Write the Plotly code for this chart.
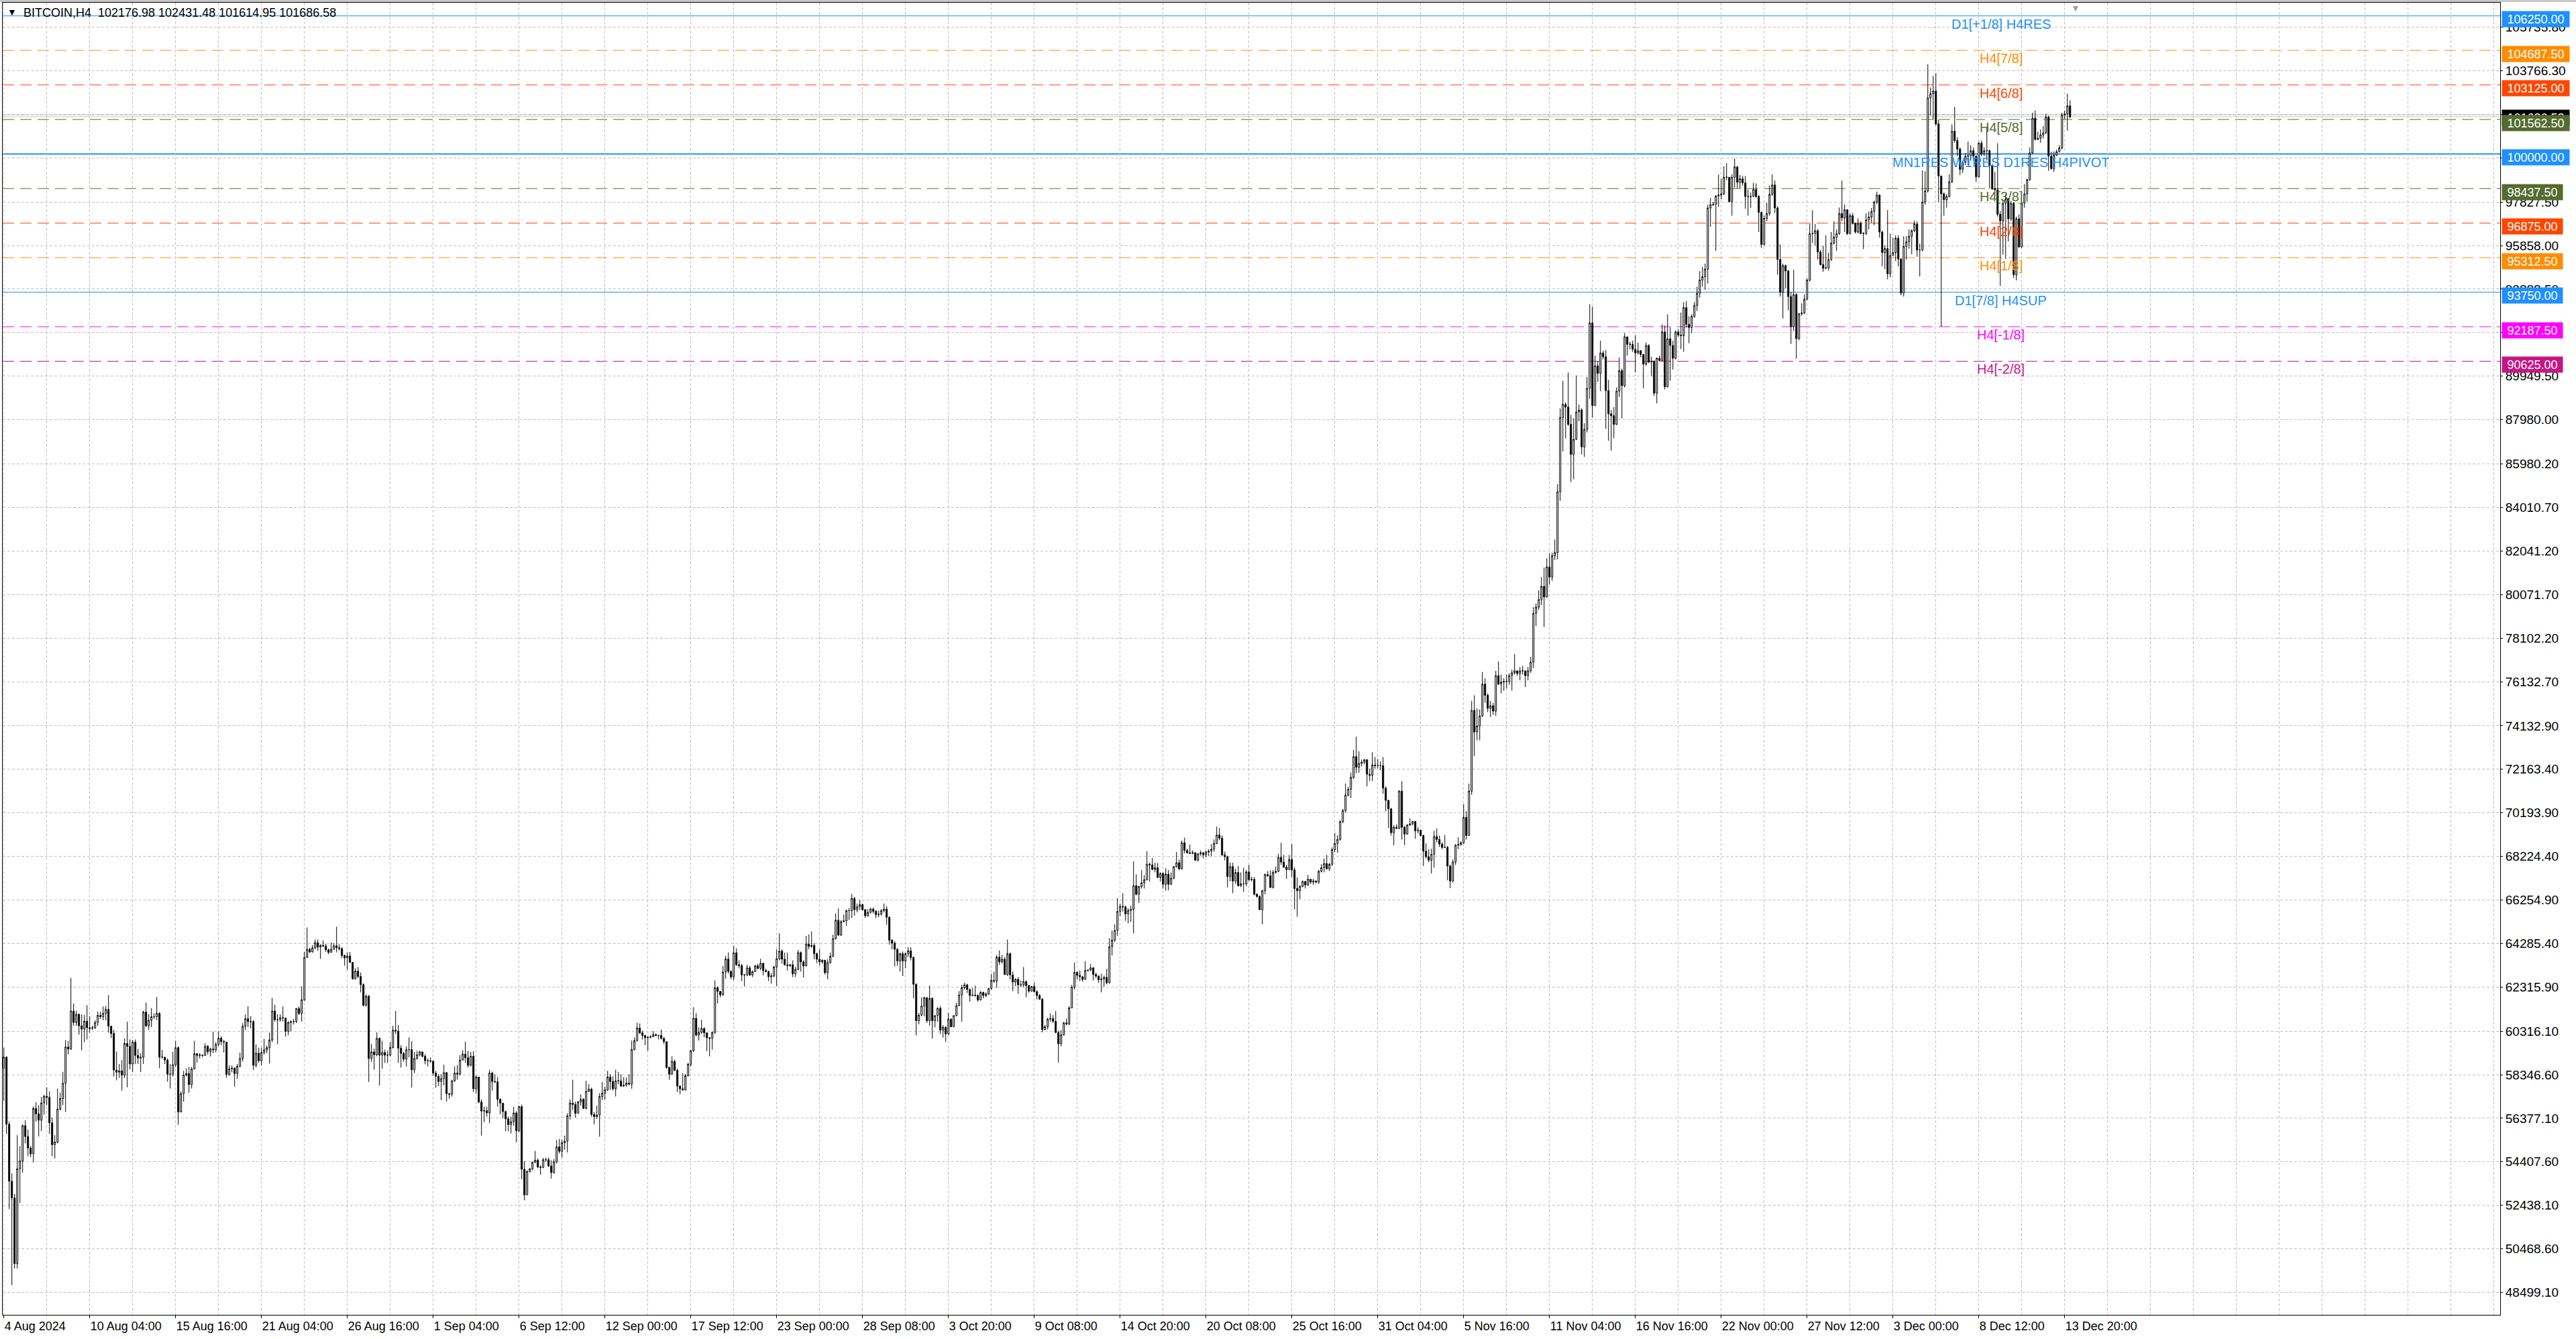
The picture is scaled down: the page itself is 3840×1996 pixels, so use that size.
import plotly.graph_objects as go

# ---------------------------------------------------------------- data
symbol = "BITCOIN"
timeframe = "H4"

first_open = 58640

closes = [
    59140, 56110, 53530, 52770, 49800, 54090, 54440, 56040, 55550, 55030,
    54770, 56820, 56580, 56290, 57070, 57370, 57320, 56170, 55180, 55300,
    56790, 57270, 57960, 59600, 59510, 61230, 60710, 61080, 60560, 60410,
    60770, 60470, 60440, 60470, 60710, 61030, 60970, 61120, 61300, 60540,
    60210, 58560, 58460, 58520, 58330, 59760, 59630, 58830, 59820, 59220,
    59100, 59140, 61180, 60560, 60810, 60970, 60970, 61120, 59140, 59140,
    59010, 58370, 58370, 58800, 59570, 56660, 57490, 58330, 58400, 57900,
    58610, 59300, 59220, 59240, 59220, 59630, 59390, 59510, 59470, 59720,
    60000, 59840, 59820, 58360, 58610, 58640, 58400, 58730, 59080, 60540,
    60880, 60750, 60750, 58770, 59320, 58980, 59350, 59470, 59570, 59920,
    61230, 60830, 60830, 60930, 60910, 60310, 60710, 60750, 60750, 61340,
    61120, 61740, 63650, 64020, 63900, 64090, 64320, 64120, 64200, 64170,
    64000, 63880, 64020, 64180, 64090, 64050, 63740, 63630, 63720, 63430,
    62690, 63030, 62790, 62420, 61490, 61900, 59080, 59380, 59250, 59990,
    59230, 59350, 59230, 59230, 59580, 60360, 60320, 59550, 59310, 59050,
    59480, 59480, 58570, 59080, 59250, 59380, 59180, 58980, 58980, 58960,
    58420, 58270, 58040, 58170, 58440, 57490, 57460, 58070, 58420, 58370,
    59010, 59280, 59110, 58770, 59180, 57710, 58240, 57110, 56700, 56720,
    56620, 58420, 58040, 58020, 57230, 57060, 56680, 56350, 56090, 56220,
    56620, 55810, 56900, 54070, 52910, 53970, 54090, 54380, 54480, 54170,
    54150, 54500, 54500, 54220, 53920, 54400, 55080, 54880, 55270, 55340,
    56480, 57060, 57000, 56600, 57110, 57230, 56820, 57590, 57690, 56550,
    56450, 56520, 57360, 57510, 57660, 58240, 58040, 57710, 58070, 58070,
    57830, 57870, 57970, 57920, 59480, 59890, 60460, 60240, 60120, 60020,
    60040, 60060, 60160, 60120, 60120, 59990, 59840, 58670, 58370, 58950,
    58540, 57830, 57710, 57660, 58300, 58820, 59430, 60900, 60140, 60260,
    60440, 60240, 60020, 59990, 60260, 62280, 62110, 61960, 62990, 63580,
    63020, 62770, 63860, 63320, 63280, 62860, 62860, 63180, 62860, 63010,
    63270, 63160, 63390, 63060, 63010, 62780, 62810, 63220, 63590, 63940,
    63570, 63320, 63280, 63320, 62910, 63110, 63870, 63450, 63270, 64260,
    64150, 64190, 63820, 63570, 63450, 63520, 62960, 63420, 63700, 64500,
    65340, 64660, 65270, 65310, 65770, 65770, 66320, 65810, 65940, 66040,
    65810, 65540, 65690, 65840, 65740, 65590, 65610, 65770, 65840, 65470,
    64430, 64300, 64020, 63490, 63820, 63490, 63820, 63950, 63650, 62440,
    60790, 61040, 61450, 61830, 60790, 61800, 60790, 61020, 61350, 60360,
    60490, 60190, 60860, 60520, 61020, 61470, 61950, 62280, 62410, 62200,
    61930, 61950, 61930, 61730, 62070, 61930, 62000, 62240, 62610, 62580,
    63670, 63450, 63570, 62880, 63820, 62860, 62540, 62660, 62410, 62410,
    62560, 62380, 62130, 62340, 62100, 61930, 61770, 60390, 60520, 60860,
    60890, 60760, 60260, 59750, 60150, 60690, 60640, 61370, 62310, 62980,
    62840, 62780, 62660, 63060, 63080, 63180, 62880, 62810, 62640, 62680,
    62750, 62510, 64140, 64440, 64870, 65730, 65960, 65940, 65620, 65780,
    65830, 66900, 66510, 66860, 67030, 67170, 67870, 67840, 67630, 67710,
    67270, 67450, 66960, 67420, 66960, 67240, 67760, 67940, 67660, 68840,
    68490, 68390, 68360, 68390, 68050, 68340, 68390, 68290, 68420, 68460,
    68550, 68810, 69190, 69050, 68290, 68210, 67310, 67760, 67110, 67500,
    66900, 66980, 66980, 67520, 67170, 67190, 66510, 66410, 65810, 66670,
    67400, 67350, 66820, 67500, 67550, 68180, 67970, 67730, 67630, 68080,
    67610, 66770, 66670, 66860, 67090, 66930, 67190, 67060, 67110, 67060,
    67550, 67710, 67900, 67660, 67870, 68530, 68810, 68990, 69800, 70300,
    71000, 71260, 71800, 72740, 72250, 72430, 72490, 72600, 71940, 71890,
    72360, 72330, 72330, 72330, 71310, 70760, 70370, 69300, 69540, 69490,
    71180, 69540, 69230, 69640, 69690, 69800, 69380, 69400, 69170, 68460,
    68210, 68050, 68320, 69120, 68990, 68780, 68630, 68630, 67790, 67110,
    67970, 68730, 68760, 68840, 69990, 69170, 71180, 74830, 73850, 74120,
    74580, 76020, 75510, 74920, 75040, 74800, 76400, 76020, 76110, 76140,
    76140, 76400, 76530, 76620, 76500, 76620, 76620, 76400, 76620, 77010,
    79220, 79500, 79840, 80440, 79960, 81320, 80860, 81830, 81970, 84720,
    88080, 88670, 88550, 87770, 86410, 87090, 88330, 88420, 86750, 87540,
    89400, 92360, 88620, 90420, 90080, 91000, 90830, 89300, 88250, 88160,
    87770, 89270, 90200, 89520, 91730, 91390, 91390, 91170, 91000, 91100,
    90930, 90490, 91340, 90590, 90630, 89180, 90760, 90660, 91950, 89470,
    91640, 91340, 90760, 91950, 91810, 91780, 93050, 92290, 92150, 92660,
    93150, 93700, 94300, 94450, 94790, 97560, 97710, 97730, 98100, 98140,
    98200, 98950, 98950, 97850, 98950, 99420, 98720, 98880, 98700, 98080,
    98080, 98080, 98390, 98080, 97360, 95910, 97090, 97310, 98180, 98600,
    97560, 95230, 93740, 94950, 94710, 93550, 92190, 93640, 91650, 92770,
    92810, 93430, 94300, 96400, 96400, 96530, 95570, 95000, 94830, 94850,
    95230, 95970, 96240, 96400, 97310, 97110, 97480, 96400, 97210, 96860,
    96470, 96860, 96400, 96400, 97020, 97150, 97400, 97830, 98140, 96470,
    95540, 95720, 94580, 95410, 95540, 96190, 95250, 93710, 95820, 96030,
    96280, 96530, 96840, 95660, 95660, 97830, 98330, 102540, 102730, 102850,
    101360, 99010, 98200, 97930, 98080, 98740, 101030, 100610, 100220, 99310,
    99620, 99900, 99920, 100150, 99900, 98970, 100490, 100000, 100150, 100150,
    99490, 98430, 98380, 97270, 96970, 97770, 97980, 97070, 97770, 94540,
    97070, 95800, 97780, 98190, 98840, 100050, 101620, 100660, 100710, 100860,
    100960, 101670, 99900, 99340, 99950, 100100, 100280, 101770, 101820, 102176.98,
    101686.58,
]

highs = [
    59570, 59180, 56230, 53880, 52950, 55610, 55120, 56100, 56290, 55860,
    55120, 56910, 57100, 56970, 57340, 57440, 57780, 57590, 56420, 55610,
    57720, 57530, 58480, 59920, 59880, 62720, 61570, 61240, 61120, 61080,
    61050, 61490, 60990, 60560, 60810, 61200, 61200, 61430, 61450, 61950,
    60560, 60370, 59390, 58830, 59010, 60000, 60750, 59940, 59920, 59940,
    59510, 59320, 61240, 61610, 61080, 61360, 61120, 61860, 61180, 59470,
    59140, 59080, 58830, 59390, 59880, 59630, 57590, 58520, 58640, 58700,
    58700, 59880, 59320, 59320, 59260, 59760, 59690, 59570, 60290, 59820,
    60310, 60090, 59920, 59840, 58770, 58770, 58680, 58830, 59350, 60680,
    61080, 61450, 60990, 60810, 59720, 59570, 59570, 59970, 59670, 60250,
    61820, 61510, 61080, 61080, 61430, 60930, 60770, 60800, 60870, 61360,
    61430, 62350, 63900, 65010, 64090, 64210, 64460, 64460, 64250, 64420,
    64270, 64050, 64330, 64300, 65040, 64250, 64120, 63780, 63880, 63900,
    63430, 63160, 63220, 62970, 62480, 61980, 61950, 59730, 59530, 60260,
    60040, 59890, 59480, 59430, 59820, 60560, 61230, 60590, 59680, 59380,
    59630, 60040, 59860, 59380, 59430, 59430, 59380, 59280, 59080, 59130,
    58950, 58520, 58370, 58370, 58800, 58470, 57510, 58120, 58720, 58770,
    59230, 59450, 59840, 59430, 59380, 59410, 58320, 58240, 57230, 56900,
    56900, 58570, 58490, 58370, 58240, 57290, 57060, 56720, 56450, 56450,
    56900, 56700, 56950, 57000, 54430, 54020, 54120, 54430, 54900, 54560,
    54250, 54580, 54600, 54600, 54480, 54530, 55390, 55440, 55410, 55590,
    56600, 57230, 58120, 57130, 57160, 57460, 57290, 58070, 57920, 57760,
    56650, 56950, 57510, 58020, 57810, 58520, 58370, 58270, 58570, 58470,
    58370, 58240, 58220, 58370, 59890, 60040, 60700, 60670, 60340, 60150,
    60090, 60140, 60320, 60220, 60160, 60390, 60040, 59750, 58720, 59180,
    59030, 58620, 57860, 58420, 58370, 58880, 59480, 61400, 61130, 60490,
    60830, 60490, 60260, 60040, 60290, 62620, 62340, 62140, 63270, 63730,
    63880, 63070, 64180, 64060, 63520, 63360, 62910, 63320, 63270, 63060,
    63320, 63360, 63590, 63280, 63140, 63060, 62940, 63270, 64020, 64750,
    64020, 63870, 63870, 63360, 63520, 63220, 63990, 63920, 63520, 64630,
    64700, 64830, 64300, 63870, 64020, 63570, 63550, 63570, 63870, 64680,
    65640, 65870, 65340, 65590, 65810, 65890, 66520, 66400, 66090, 66250,
    66090, 65850, 65840, 65910, 65910, 65790, 65770, 65840, 66090, 65970,
    65510, 64480, 64380, 64070, 63870, 63920, 63870, 64120, 64120, 63690,
    62480, 61140, 61850, 61870, 61850, 62380, 61850, 61040, 61400, 61450,
    60590, 60540, 61140, 60900, 61040, 61600, 62130, 62410, 62510, 62460,
    62250, 62270, 62380, 62000, 62130, 62100, 62070, 62280, 62910, 63010,
    63770, 63970, 63770, 63670, 64460, 63870, 63010, 62710, 62760, 62610,
    63220, 62610, 62410, 62360, 62510, 62170, 62000, 61800, 60590, 60920,
    61120, 61040, 61230, 60340, 60360, 60740, 60890, 61450, 62410, 63420,
    63010, 63060, 62800, 63490, 63110, 63360, 63210, 62960, 62840, 62910,
    62830, 63140, 64530, 64870, 65150, 66330, 66090, 66560, 65990, 65880,
    65990, 68000, 67420, 66900, 67610, 67380, 68460, 67940, 68150, 67940,
    67920, 67500, 67500, 67690, 67610, 67500, 67790, 68420, 68080, 68940,
    69070, 68570, 68760, 68490, 68400, 68360, 68490, 68400, 68490, 68550,
    68780, 68990, 69570, 69510, 69170, 68440, 68250, 67940, 67940, 67660,
    67790, 67500, 67710, 67610, 67840, 67310, 67290, 66560, 66460, 66720,
    67450, 67560, 67590, 67610, 67760, 68340, 68840, 68290, 67840, 68290,
    68780, 67730, 67270, 66930, 67140, 67110, 67380, 67210, 67210, 67140,
    67610, 67870, 68130, 68290, 67920, 68630, 69280, 69170, 69850, 70370,
    71520, 71370, 72010, 73040, 73640, 72980, 72600, 72620, 72620, 72200,
    72930, 72720, 72620, 72520, 72720, 71390, 70790, 70420, 69640, 69670,
    71210, 71630, 69610, 69690, 69950, 69820, 69830, 69540, 69430, 69200,
    68810, 68550, 68570, 69380, 69490, 69170, 68860, 69190, 68700, 67840,
    68080, 68780, 69090, 68910, 70580, 70270, 71520, 75260, 75510, 74920,
    74870, 76570, 76280, 75600, 75260, 75170, 76620, 77040, 76450, 76280,
    76450, 76500, 76670, 77380, 76620, 76790, 76840, 76620, 76790, 77250,
    79500, 79670, 80270, 80860, 81290, 81710, 81930, 81970, 82560, 85060,
    88500, 89740, 88760, 90120, 88200, 88040, 89980, 88670, 88500, 87820,
    89910, 93200, 93100, 90880, 90630, 91560, 91100, 91130, 89780, 88420,
    88550, 89440, 90800, 90290, 91900, 91730, 91510, 91560, 91810, 91470,
    91130, 90950, 91470, 91390, 90830, 90660, 90800, 90880, 92290, 92240,
    92750, 92150, 91560, 92020, 92070, 92830, 93300, 93350, 92660, 92750,
    93300, 94000, 94700, 94900, 95040, 97710, 98020, 97830, 98140, 99070,
    98880, 99440, 99590, 98950, 99090, 99790, 99450, 99050, 99010, 99010,
    98390, 98260, 98700, 98670, 98140, 97400, 97210, 97800, 98570, 99070,
    98800, 97640, 95910, 95040, 95000, 94760, 93760, 94760, 93710, 92810,
    93240, 93640, 94380, 96840, 97460, 96840, 96610, 95660, 95850, 96320,
    95540, 96470, 96960, 96590, 97580, 98800, 97710, 97460, 97330, 97330,
    96900, 97090, 96960, 96470, 97310, 97400, 97560, 97890, 98300, 98180,
    96530, 95870, 97460, 96400, 96220, 96320, 96320, 95290, 96280, 96280,
    96590, 96590, 96990, 96960, 95950, 99260, 99220, 104060, 103010, 103530,
    103660, 101550, 98950, 98260, 98180, 99090, 101340, 102130, 100760, 100300,
    99700, 100050, 100560, 100400, 100300, 99950, 100560, 100610, 100300, 101210,
    100200, 99550, 99190, 100490, 97420, 97880, 98180, 98000, 97880, 97830,
    97170, 97270, 97830, 98640, 98890, 100300, 101870, 101970, 101010, 101110,
    101260, 101820, 101740, 100100, 100120, 100200, 100400, 101870, 101970, 102730,
    102431.48,
]

lows = [
    57160, 55670, 52270, 48830, 49580, 49580, 52540, 53920, 55240, 54660,
    54620, 54380, 56230, 55550, 55800, 56540, 56970, 55670, 54660, 54560,
    55240, 56730, 56970, 56660, 59260, 59470, 60560, 60560, 60160, 59450,
    59820, 59940, 60250, 60370, 60410, 60560, 60870, 60810, 60810, 60250,
    60000, 58270, 58090, 58210, 57630, 58190, 57780, 58580, 58460, 58830,
    58830, 58460, 58830, 60500, 60370, 60500, 60870, 60810, 58640, 59080,
    58830, 58030, 57720, 58270, 58700, 56080, 56730, 57120, 58270, 57530,
    57720, 58580, 58890, 59080, 59140, 59200, 59260, 59170, 59320, 59360,
    59630, 59690, 59350, 58210, 58310, 58460, 57810, 58150, 58680, 58950,
    60370, 60500, 60440, 58560, 58680, 58890, 58770, 59260, 59320, 58850,
    59820, 60750, 59730, 60750, 60750, 60070, 60130, 60310, 60620, 60680,
    61050, 60750, 61670, 63630, 63850, 63870, 64020, 63950, 63590, 64120,
    63900, 63800, 63880, 64000, 63880, 63960, 63630, 63280, 63100, 63400,
    62640, 62640, 62720, 62070, 61430, 61430, 58020, 58930, 58570, 59180,
    57860, 58620, 58880, 58880, 59180, 59530, 60190, 58880, 58670, 58930,
    58720, 59130, 57760, 58420, 59030, 59180, 59130, 58820, 58720, 58880,
    58300, 57760, 57830, 57190, 57860, 57130, 57260, 57360, 58020, 58120,
    58320, 58990, 58880, 58670, 58720, 57560, 57510, 57060, 55590, 56200,
    56450, 56150, 57630, 57970, 56900, 56550, 56380, 55790, 55790, 55690,
    56040, 55290, 55740, 53620, 52660, 52980, 53920, 54020, 54350, 54120,
    53820, 54120, 54400, 54170, 53650, 53870, 54330, 54780, 54600, 54960,
    54830, 56320, 56750, 56400, 56600, 56950, 56800, 56780, 57560, 56450,
    56100, 56350, 55540, 57210, 57210, 57610, 57660, 57630, 57360, 57920,
    57790, 57790, 57810, 57860, 57710, 59450, 59850, 60190, 59940, 59680,
    59430, 59990, 60060, 60090, 59940, 59940, 59730, 58620, 58120, 58370,
    58520, 57560, 57460, 57620, 57630, 58270, 58720, 59380, 60090, 59890,
    60190, 60040, 59410, 59180, 59480, 60190, 61570, 61840, 61910, 62690,
    62920, 62670, 62620, 63270, 63160, 62580, 62340, 62800, 62810, 62760,
    62990, 63110, 63080, 62840, 62980, 62580, 62460, 62760, 62360, 63520,
    63370, 63280, 63060, 63220, 62760, 62760, 63080, 63010, 62740, 63250,
    64020, 64090, 63570, 63390, 63280, 63370, 62880, 62660, 63370, 63670,
    64460, 64630, 64630, 65240, 65080, 65340, 65440, 65540, 65690, 65790,
    65770, 65440, 65490, 65640, 65640, 65440, 65470, 65540, 65690, 65130,
    64230, 64020, 63250, 63270, 63010, 62810, 63160, 63670, 63520, 61800,
    60130, 60620, 60990, 60990, 60690, 60560, 59980, 60490, 60740, 60190,
    60030, 59830, 60130, 60490, 60490, 60990, 61450, 60740, 62200, 62050,
    61650, 61900, 61870, 61650, 61700, 61800, 61850, 61950, 62200, 62510,
    62280, 63320, 63370, 62860, 62810, 62660, 62130, 62360, 62000, 62310,
    62310, 61850, 62050, 62100, 62070, 61750, 61730, 60260, 60350, 60390,
    60740, 60690, 60220, 58900, 59630, 60110, 60590, 60590, 61350, 62200,
    62660, 62580, 62560, 62640, 63010, 63040, 62610, 62710, 62500, 62070,
    62330, 62440, 62470, 63740, 64350, 64630, 65520, 65730, 65310, 65200,
    65260, 64740, 66460, 66120, 66770, 66770, 67140, 67090, 67610, 67500,
    67240, 67090, 66770, 66670, 66690, 66930, 67190, 67710, 67610, 67630,
    68360, 68340, 68340, 68320, 68020, 68000, 68250, 68130, 68180, 68230,
    68230, 68440, 68780, 68960, 68250, 68050, 66820, 67090, 66560, 66980,
    66860, 66830, 66620, 66880, 67110, 67090, 66460, 66350, 65780, 65150,
    66510, 67290, 66790, 66770, 67450, 67500, 67840, 67710, 67210, 67610,
    67290, 65830, 65500, 66300, 66830, 66770, 66880, 66980, 66930, 67000,
    66980, 67500, 67500, 67630, 67560, 67790, 68420, 68390, 68940, 69720,
    70200, 70930, 70860, 71730, 71990, 72010, 72300, 72390, 71390, 71630,
    71630, 72200, 72200, 72120, 71050, 70270, 69510, 69170, 68730, 69460,
    69460, 68990, 68730, 69230, 69610, 69640, 69020, 69260, 69120, 67790,
    68130, 67970, 67450, 67710, 68860, 68650, 68550, 68600, 67140, 66790,
    67050, 67840, 68550, 68700, 68780, 68990, 69150, 71010, 72760, 73480,
    73480, 74530, 75170, 74750, 74530, 74630, 74580, 75970, 75600, 75720,
    75820, 75990, 75720, 76450, 76400, 76190, 76450, 75890, 76190, 76530,
    76740, 78650, 79380, 79590, 78600, 79930, 80520, 80690, 81630, 81660,
    84310, 86550, 87140, 87700, 85160, 85280, 87060, 87910, 86410, 86300,
    87400, 88930, 88080, 88600, 89690, 89270, 90710, 87570, 87030, 86580,
    87140, 87740, 89010, 88040, 89440, 90880, 91170, 91050, 90120, 90930,
    90800, 89400, 90420, 90540, 89950, 89060, 88720, 90630, 90630, 89350,
    89440, 89740, 90250, 90710, 91730, 91170, 91050, 92150, 91440, 91900,
    92580, 92900, 93500, 94000, 93860, 94140, 96710, 97650, 95620, 97610,
    97950, 98140, 98820, 97800, 97210, 98480, 98450, 98450, 98570, 97520,
    97210, 97560, 98050, 98020, 96470, 95750, 95850, 96960, 97210, 98100,
    97330, 94540, 93550, 92560, 93920, 92930, 91410, 92000, 90740, 91570,
    92680, 92750, 93390, 94230, 95970, 95850, 95230, 94950, 94670, 94790,
    94730, 95160, 95910, 95620, 96340, 96960, 96470, 96340, 96370, 96810,
    96400, 96400, 96370, 95700, 96340, 96590, 96900, 96780, 97730, 96220,
    94920, 94790, 94330, 94420, 95410, 95160, 94920, 93610, 93550, 95230,
    95720, 95470, 96470, 95350, 94460, 95600, 97710, 98260, 101740, 101550,
    101300, 97830, 92190, 97210, 97570, 98030, 98690, 100510, 99900, 99040,
    99140, 99490, 99490, 99700, 99700, 98740, 98940, 99900, 99900, 99700,
    98430, 98380, 98080, 97170, 94030, 95450, 95250, 96050, 96970, 94390,
    94280, 95750, 95750, 97570, 97850, 98790, 100000, 100610, 100630, 100510,
    100710, 100910, 99240, 99290, 99190, 99900, 100100, 100200, 101570, 101060,
    101614.95,
]

# x-axis labels: bar index -> label text
date_tick_bars = [0, 32, 64, 96, 128, 160, 192, 224, 256, 288, 320, 352, 384,
                  416, 448, 480, 512, 544, 576, 608, 640, 672, 704, 736, 768]
date_tick_labels = [
    "4 Aug 2024", "10 Aug 04:00", "15 Aug 16:00", "21 Aug 04:00", "26 Aug 16:00",
    "1 Sep 04:00", "6 Sep 12:00", "12 Sep 00:00", "17 Sep 12:00", "23 Sep 00:00",
    "28 Sep 08:00", "3 Oct 20:00", "9 Oct 08:00", "14 Oct 20:00", "20 Oct 08:00",
    "25 Oct 16:00", "31 Oct 04:00", "5 Nov 16:00", "11 Nov 04:00", "16 Nov 16:00",
    "22 Nov 00:00", "27 Nov 12:00", "3 Dec 00:00", "8 Dec 12:00", "13 Dec 20:00",
]

price_ticks = [
    105735.8, 103766.3, 101796.8, 99827.3, 97827.5, 95858.0, 93888.5, 91919.0,
    89949.5, 87980.0, 85980.2, 84010.7, 82041.2, 80071.7, 78102.2, 76132.7,
    74132.9, 72163.4, 70193.9, 68224.4, 66254.9, 64285.4, 62315.9, 60316.1,
    58346.6, 56377.1, 54407.6, 52438.1, 50468.6, 48499.1,
]

level_prices = [106250, 104687.5, 103125, 101562.5, 100000, 98437.5,
                96875, 95312.5, 93750, 92187.5, 90625]
level_names = ["D1[+1/8] H4RES", "H4[7/8]", "H4[6/8]", "H4[5/8]",
               "MN1RES W1RES D1RES H4PIVOT", "H4[3/8]", "H4[2/8]", "H4[1/8]",
               "D1[7/8] H4SUP", "H4[-1/8]", "H4[-2/8]"]

ask_price = 101771

# ---------------------------------------------------------------- styles
level_colors = ["#1E90FF", "#FF8C00", "#FF4500", "#556B2F", "#1E90FF", "#556B2F",
                "#FF4500", "#FF8C00", "#1E90FF", "#FF00FF", "#C71585"]
level_dash = ["solid", "17px,9px", "17px,9px", "17px,9px", "solid", "17px,9px",
              "17px,9px", "17px,9px", "solid", "17px,9px", "17px,9px"]
level_width = [1, 1, 1, 1, 2, 1, 1, 1, 1, 1, 1]

FONT = "Liberation Sans, Arial, sans-serif"
GRID = "#C0C0C0"
GRID_DASH = "4px,3px"
label_bar = 744.3   # where the level captions sit

n = len(closes)
bars = list(range(n))
opens = [first_open] + closes[:-1]
highs = [max(h, o, c) for h, o, c in zip(highs, opens, closes)]
lows = [min(l, o, c) for l, o, c in zip(lows, opens, closes)]

fig = go.Figure()
fig.add_trace(go.Candlestick(
    x=bars, open=opens, high=highs, low=lows, close=closes,
    increasing=dict(line=dict(color="black", width=1), fillcolor="white"),
    decreasing=dict(line=dict(color="black", width=1), fillcolor="black"),
    whiskerwidth=0, hoverinfo="skip", showlegend=False,
))

shapes = []
for p, c, d, w in zip(level_prices, level_colors, level_dash, level_width):
    shapes.append(dict(type="line", xref="paper", x0=0, x1=1, yref="y", y0=p, y1=p,
                       line=dict(color=c, width=w, dash=d), layer="below"))
for p in [ask_price, closes[-1]]:
    shapes.append(dict(type="line", xref="paper", x0=0, x1=1, yref="y", y0=p, y1=p,
                       line=dict(color="#C8C8C8", width=1), layer="below"))
# window frame strip at the very top
shapes.append(dict(type="rect", xref="paper", yref="paper", x0=-0.01, x1=1.1,
                   y0=1.0005, y1=1.01, fillcolor="#C8C8C8", line=dict(width=0)))

annotations = []
for p, name, c in zip(level_prices, level_names, level_colors):
    annotations.append(dict(x=label_bar, y=p, xref="x", yref="y", text=name,
                            showarrow=False, xanchor="center", yanchor="top",
                            yshift=1, font=dict(family=FONT, size=20, color=c)))

# price boxes on the right scale (bid first so the levels sit on top)
annotations.append(dict(x=1, y=closes[-1], xref="paper", yref="y",
                        text=f"{closes[-1]:.2f}", showarrow=False, xanchor="left",
                        xshift=2, yshift=-1, width=100, height=23, borderpad=0,
                        bgcolor="black", font=dict(family=FONT, size=18, color="white")))
for p, c in zip(level_prices, level_colors):
    txt = f"{p:.2f}"
    annotations.append(dict(x=1, y=p, xref="paper", yref="y", text=txt,
                            showarrow=False, xanchor="left", xshift=2, yshift=-5,
                            width=100 if len(txt) > 8 else 90, height=23,
                            borderpad=0, bgcolor=c,
                            font=dict(family=FONT, size=18, color="white")))

header = (f"{symbol},{timeframe}\u00a0\u00a0{closes[-2]:.2f} {highs[-1]:.2f} "
          f"{lows[-1]:.2f} {closes[-1]:.2f}")
annotations.append(dict(x=0, y=1, xref="paper", yref="paper", text=header,
                        showarrow=False, xanchor="left", yanchor="top",
                        xshift=29, yshift=-3, font=dict(family=FONT, size=18, color="black")))
annotations.append(dict(x=0, y=1, xref="paper", yref="paper", text="\u25bc",
                        showarrow=False, xanchor="center", yanchor="top",
                        xshift=14, yshift=-4, font=dict(family=FONT, size=14, color="black")))
annotations.append(dict(x=n + 1, y=1, xref="x", yref="paper", text="\u25bc",
                        showarrow=False, xanchor="center", yanchor="top",
                        yshift=2, font=dict(family=FONT, size=14, color="#A0A0A0")))

fig.update_layout(
    width=3840, height=1996,
    margin=dict(l=4, r=113, t=4, b=36),
    paper_bgcolor="white", plot_bgcolor="white",
    showlegend=False,
    font=dict(family=FONT, size=18, color="black"),
    shapes=shapes, annotations=annotations,
    xaxis=dict(
        range=[-0.43, 930.3], rangeslider=dict(visible=False),
        tickmode="array", tickvals=date_tick_bars, ticktext=date_tick_labels,
        ticks="outside", ticklen=4, tickcolor="black",
        ticklabelposition="outside right",
        tickfont=dict(family=FONT, size=18, color="black"),
        showgrid=True, gridcolor=GRID, griddash=GRID_DASH, gridwidth=1,
        minor=dict(tickmode="linear", tick0=0, dtick=16, ticks="", showgrid=True,
                   gridcolor=GRID, griddash=GRID_DASH, gridwidth=1),
        showline=True, linecolor="black", linewidth=1, mirror=True, zeroline=False,
    ),
    yaxis=dict(
        side="right", range=[47482, 106847],
        tickmode="array", tickvals=price_ticks,
        ticktext=[f"{v:.2f}" for v in price_ticks],
        ticks="outside", ticklen=3, tickcolor="black",
        tickfont=dict(family=FONT, size=19, color="black"),
        showgrid=True, gridcolor=GRID, griddash=GRID_DASH, gridwidth=1,
        showline=True, linecolor="black", linewidth=1, mirror=True, zeroline=False,
    ),
)

fig.write_html("out.html", config={"displayModeBar": False},
               post_script="document.body.style.margin='0';")
